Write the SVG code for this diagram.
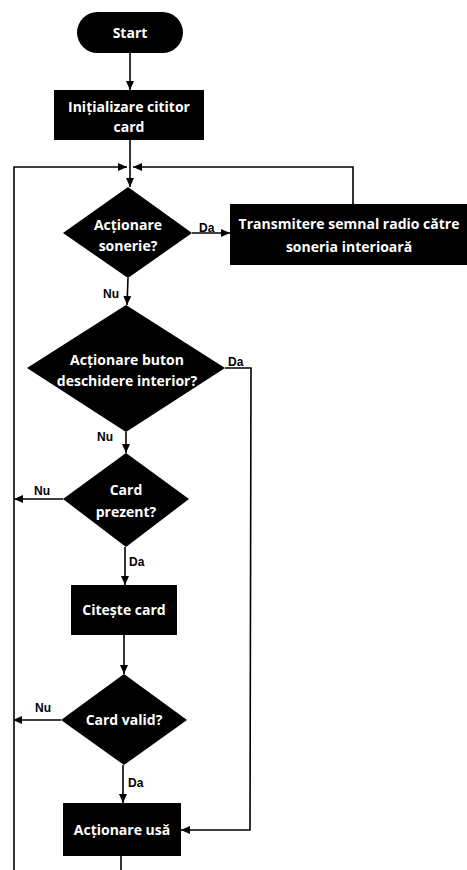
<svg xmlns="http://www.w3.org/2000/svg" width="467" height="870" viewBox="0 0 467 870">
<style>
.n{fill:#000;stroke:none}
.t{fill:#fff;font-family:"Open Sans","Liberation Sans",sans-serif;font-weight:bold;font-size:14px;text-anchor:middle}
.l{fill:#000;font-family:"Liberation Sans",Arial,sans-serif;font-weight:bold;font-size:12px}
.c{fill:none;stroke:#000;stroke-width:1.6}
</style>
<defs>
<marker id="a" markerWidth="10" markerHeight="10" refX="9" refY="5" orient="auto" markerUnits="userSpaceOnUse">
<path d="M0,1 L9,5 L0,9 Z" fill="#000"/>
</marker>
</defs>
<rect width="467" height="870" fill="#fff"/>
<g id="connectors">
<line class="c" x1="130" y1="53" x2="130" y2="90" marker-end="url(#a)"/>
<line class="c" x1="130" y1="140" x2="130" y2="187" marker-end="url(#a)"/>
<polyline class="c" points="14,870 14,167 127,167" marker-end="url(#a)"/>
<polyline class="c" points="353,204 353,167 133,167" marker-end="url(#a)"/>
<line class="c" x1="192" y1="233" x2="230" y2="233" marker-end="url(#a)"/>
<line class="c" x1="128" y1="278" x2="127" y2="305" marker-end="url(#a)"/>
<polyline class="c" points="225,368 251,368 250,830 181,830" marker-end="url(#a)"/>
<line class="c" x1="126" y1="432" x2="126" y2="453" marker-end="url(#a)"/>
<line class="c" x1="63" y1="499" x2="14" y2="499" marker-end="url(#a)"/>
<line class="c" x1="125" y1="547" x2="125" y2="585" marker-end="url(#a)"/>
<line class="c" x1="124" y1="635" x2="124" y2="674" marker-end="url(#a)"/>
<line class="c" x1="61" y1="720" x2="13" y2="720" marker-end="url(#a)"/>
<line class="c" x1="123" y1="765" x2="123" y2="803" marker-end="url(#a)"/>
<line class="c" x1="121" y1="856" x2="121" y2="870"/>
<text class="l" x="199" y="232">Da</text>
<text class="l" x="103" y="298">Nu</text>
<text class="l" x="228" y="366">Da</text>
<text class="l" x="97" y="441">Nu</text>
<text class="l" x="34" y="495">Nu</text>
<text class="l" x="129" y="566">Da</text>
<text class="l" x="35" y="712">Nu</text>
<text class="l" x="128" y="787">Da</text>
</g>
<g id="start">
<rect class="n" x="77" y="12" width="106" height="41" rx="20.5"/>
<text class="t" x="130" y="38">Start</text>
</g>
<g id="init">
<rect class="n" x="54" y="90" width="150" height="50"/>
<text class="t" x="129" y="112">Inițializare cititor</text>
<text class="t" x="129" y="132">card</text>
</g>
<g id="sonerie">
<polygon class="n" points="128,187 192,233 128,278 63,233"/>
<text class="t" x="128" y="230">Acționare</text>
<text class="t" x="128" y="251">sonerie?</text>
</g>
<g id="transmit">
<rect class="n" x="230" y="204" width="237" height="61"/>
<text class="t" x="349" y="229">Transmitere semnal radio către</text>
<text class="t" x="349" y="252">soneria interioară</text>
</g>
<g id="buton">
<polygon class="n" points="126,305 225,368 126,432 27,368"/>
<text class="t" x="127" y="365">Acționare buton</text>
<text class="t" x="127" y="386">deschidere interior?</text>
</g>
<g id="prezent">
<polygon class="n" points="126,453 189,499 126,547 63,499"/>
<text class="t" x="126" y="495">Card</text>
<text class="t" x="126" y="517">prezent?</text>
</g>
<g id="citeste">
<rect class="n" x="71" y="585" width="106" height="50"/>
<text class="t" x="124" y="615">Citește card</text>
</g>
<g id="valid">
<polygon class="n" points="124,674 187,720 124,765 61,720"/>
<text class="t" x="124" y="725">Card valid?</text>
</g>
<g id="usa">
<rect class="n" x="63" y="803" width="118" height="53"/>
<text class="t" x="122" y="835">Acționare usă</text>
</g>
</svg>
